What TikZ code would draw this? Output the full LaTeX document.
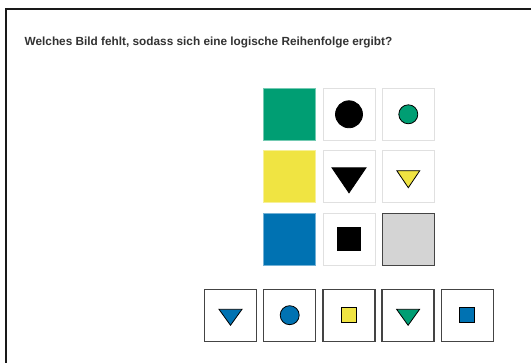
\documentclass[tikz,border=0pt]{standalone}
\usepackage{fontspec}
\setmainfont{Liberation Sans}
\usepackage{xcolor}
\usepackage{tikz}
\usetikzlibrary{positioning,shapes.geometric}
\definecolor{gruen}{HTML}{009E73}
\definecolor{gelb}{HTML}{F0E442}
\definecolor{blau}{HTML}{0072B2}
\definecolor{rahmen}{HTML}{444444}
\tikzset{
    kachel/.style={
        rectangle,
        inner sep=0pt,
        outer sep=0pt,
        minimum size=52pt
    },
    farbfeld/.style={kachel, draw=#1!55!white, line width=0.6pt, fill=#1},
    feld/.style={kachel, draw=black!12, line width=1pt, fill=white},
    leer/.style={kachel, draw=rahmen, line width=1.5pt, fill=black!17},
    antwort/.style={kachel, draw=rahmen, line width=1.3pt, fill=white},
    kreis/.style={circle, draw=black, line width=0.8pt, inner sep=0pt, minimum size=#1},
    quadrat/.style={rectangle, draw=black, line width=0.8pt, inner sep=0pt, minimum size=#1},
    dreieck/.style={
        isosceles triangle,
        isosceles triangle stretches,
        shape border rotate=-90,
        draw=black,
        line width=0.8pt,
        inner sep=0pt
    }
}

\begin{document}
\begin{tikzpicture}[x=1pt, y=1pt, node distance=10.5pt and 7.3pt]
        \useasboundingbox[fill=white] (0,0) rectangle (531,-363);
        \draw[line width=2pt, black!90] (6,-370) -- (6,-9) -- (540,-9);

        \node[anchor=base west, inner sep=0pt, text=black!80,
              font=\bfseries\fontsize{11.8}{13}\selectfont] (frage) at (24.5,-46)
            {Welches Bild fehlt, sodass sich eine logische Reihenfolge ergibt?};

        % Raster
        \node[farbfeld=gruen] (a1) at (289.7,-114.3) {};
        \node[feld, right=of a1] (b1) {};
        \node[feld, right=of b1] (c1) {};
        \node[farbfeld=gelb, below=of a1] (a2) {};
        \node[feld, right=of a2] (b2) {};
        \node[feld, right=of b2] (c2) {};
        \node[farbfeld=blau, below=of a2] (a3) {};
        \node[feld, right=of a3] (b3) {};
        \node[leer, right=of b3] (c3) {};

        \node[kreis=27pt, fill=black] (k1) at (b1) {};
        \node[kreis=19pt, fill=gruen] (k2) at (c1) {};
        \node[dreieck, fill=black, minimum width=34pt, minimum height=25pt] (d1) at (b2) {};
        \node[dreieck, fill=gelb, minimum width=23pt, minimum height=17pt] (d2) at (c2) {};
        \node[quadrat=23pt, fill=black] (q1) at (b3) {};

        % Antworten
        \node[antwort] (l1) at (230.5,-315.2) {};
        \node[antwort, right=7.2pt of l1] (l2) {};
        \node[antwort, right=7.2pt of l2] (l3) {};
        \node[antwort, right=7.2pt of l3] (l4) {};
        \node[antwort, right=7.2pt of l4] (l5) {};

        \node[dreieck, fill=blau, minimum width=23pt, minimum height=16pt] (w1) at (l1) {};
        \node[kreis=19pt, fill=blau] (w2) at (l2) {};
        \node[quadrat=15pt, fill=gelb] (w3) at (l3) {};
        \node[dreieck, fill=gruen, minimum width=23pt, minimum height=16pt] (w4) at (l4) {};
        \node[quadrat=15pt, fill=blau] (w5) at (l5) {};
    \end{tikzpicture}
\end{document}
